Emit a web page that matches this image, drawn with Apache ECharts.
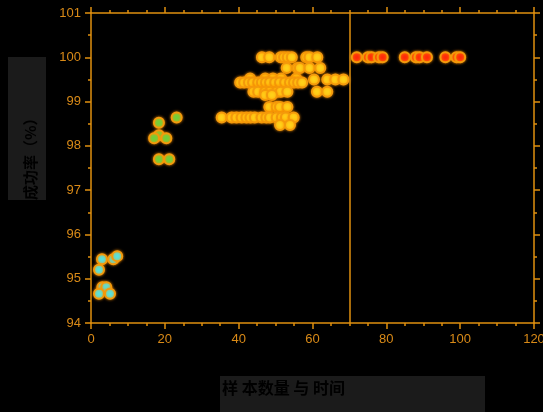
<!DOCTYPE html>
<html>
<head>
<meta charset="utf-8">
<script src="https://cdn.jsdelivr.net/npm/echarts@6/dist/echarts.min.js"></script>
<style>html,body{margin:0;padding:0;background:#000;}#c{width:543px;height:412px;}</style>
</head>
<body>
<div id="c"></div>
<script>
// ---- data ----
var xTicks = [0, 20, 40, 60, 80, 100, 120];
var yTicks = [94, 95, 96, 97, 98, 99, 100, 101];
var thresholdX = 70;
var yTitle = "成功率（%）";
var xTitle = "样 本数量 与 时间";

var cyanX = [2.98, 6.05, 7.1, 2.17, 3.07, 4.15, 2.17, 5.15];
var cyanY = [95.44, 95.44, 95.51, 95.2, 94.81, 94.81, 94.66, 94.66];

var greenX = [18.4, 23.2, 18.4, 17.1, 20.4, 18.4, 21.2];
var greenY = [98.52, 98.64, 98.24, 98.17, 98.17, 97.70, 97.70];

var yellowX = [
  46.3, 48.3, 51.4, 52.3, 53.3, 54.4, 58.3, 59.2, 61.3,
  53.0, 55.9, 56.6, 59.2, 62.1,
  60.4, 64.0, 66.2, 68.4,
  43.1, 47.2, 49.3, 51.5, 55.6,
  40.4, 41.5, 42.8, 43.9, 45.3, 46.3, 47.4, 48.5, 49.9, 51.2, 52.6, 53.9, 55.0, 56.1, 57.2,
  44.0, 45.3, 47.2, 48.5, 50.3, 51.4, 53.2, 61.2, 64.0,
  47.2, 49.0,
  48.3, 50.3, 51.2, 53.2,
  35.4, 38.1, 39.4, 40.8, 42.1, 43.2, 44.4, 46.2, 47.5, 48.5, 50.3, 51.7, 52.8, 54.9,
  51.2, 53.9
];
var yellowY = [
  100, 100, 100, 100, 100, 100, 100, 100, 100,
  99.76, 99.76, 99.76, 99.76, 99.76,
  99.5, 99.5, 99.5, 99.5,
  99.52, 99.52, 99.52, 99.52, 99.52,
  99.43, 99.43, 99.43, 99.43, 99.43, 99.43, 99.43, 99.43, 99.43, 99.43, 99.43, 99.43, 99.43, 99.43, 99.43,
  99.22, 99.22, 99.22, 99.22, 99.22, 99.22, 99.22, 99.22, 99.22,
  99.15, 99.15,
  98.88, 98.88, 98.88, 98.88,
  98.64, 98.64, 98.64, 98.64, 98.64, 98.64, 98.64, 98.64, 98.64, 98.64, 98.64, 98.64, 98.64, 98.64,
  98.47, 98.47
];

var redX = [72, 75, 76, 78, 79, 85, 88, 89, 91, 96, 99, 100];
var redY = [100, 100, 100, 100, 100, 100, 100, 100, 100, 100, 100, 100];

// ---- build ----
function pairs(xs, ys) { return xs.map(function (x, i) { return [x, ys[i]]; }); }
var AX = '#e0900f';
var LBL = '#d98a17';
function scatter(name, xs, ys, fill) {
  return {
    name: name, type: 'scatter', data: pairs(xs, ys), symbolSize: 10,
    itemStyle: { color: fill, borderColor: '#f39a0c', borderWidth: 2, opacity: 1,
                 shadowBlur: 3, shadowColor: 'rgba(255,150,0,0.8)' },
    emphasis: { disabled: true }
  };
}
function axisBase(pos, showLabel, min, max, interval, minorSplit) {
  return {
    type: 'value', position: pos, min: min, max: max, interval: interval,
    axisLine: { show: true, onZero: false, lineStyle: { color: AX, width: 1.5 } },
    axisTick: { show: true, inside: false, length: 6, lineStyle: { color: AX, width: 1.5 } },
    minorTick: { show: true, splitNumber: minorSplit, length: 3, lineStyle: { color: AX, width: 1.5 } },
    splitLine: { show: false },
    axisLabel: { show: showLabel, color: LBL, fontSize: 13, fontFamily: 'Liberation Sans, Arial, sans-serif', margin: 10 }
  };
}
var chart = echarts.init(document.getElementById('c'));
var s = [
  scatter('cyan', cyanX, cyanY, '#55e3e0'),
  scatter('green', greenX, greenY, '#6fd13a'),
  scatter('yellow', yellowX, yellowY, '#ffd21a'),
  scatter('red', redX, redY, '#ff2a0a')
];
s[0].markLine = {
  silent: true, symbol: 'none', label: { show: false },
  lineStyle: { color: AX, width: 1.5, type: 'solid' },
  data: [{ xAxis: thresholdX }]
};
var BOX = '#1b1b1b';
chart.setOption({
  backgroundColor: '#000',
  animation: false,
  grid: { left: 91, right: 9, top: 13, bottom: 89, containLabel: false, outerBoundsMode: 'none' },
  xAxis: [
    axisBase('bottom', true, xTicks[0], xTicks[xTicks.length - 1], xTicks[1] - xTicks[0], 4),
    axisBase('top', false, xTicks[0], xTicks[xTicks.length - 1], xTicks[1] - xTicks[0], 4)
  ],
  yAxis: [
    axisBase('left', true, yTicks[0], yTicks[yTicks.length - 1], yTicks[1] - yTicks[0], 2),
    axisBase('right', false, yTicks[0], yTicks[yTicks.length - 1], yTicks[1] - yTicks[0], 2)
  ],
  graphic: [
    { type: 'rect', left: 8, top: 57, z: 1, shape: { width: 38, height: 143 }, style: { fill: BOX } },
    { type: 'text', x: 30, y: 200, z: 2, rotation: Math.PI / 2,
      style: { text: yTitle, fill: '#000000', stroke: BOX, lineWidth: 0.01, fontSize: 15, fontWeight: 'bold', fontFamily: 'Noto Sans CJK SC', align: 'left', verticalAlign: 'middle' } },
    { type: 'rect', left: 220, top: 376, z: 1, shape: { width: 265, height: 40 }, style: { fill: BOX } },
    { type: 'text', x: 222, y: 388, z: 2,
      style: { text: xTitle, fill: '#000000', stroke: BOX, lineWidth: 0.01, fontSize: 16, fontWeight: 'bold', fontFamily: 'Noto Sans CJK SC', verticalAlign: 'middle' } }
  ],
  series: s
});
</script>
</body>
</html>
